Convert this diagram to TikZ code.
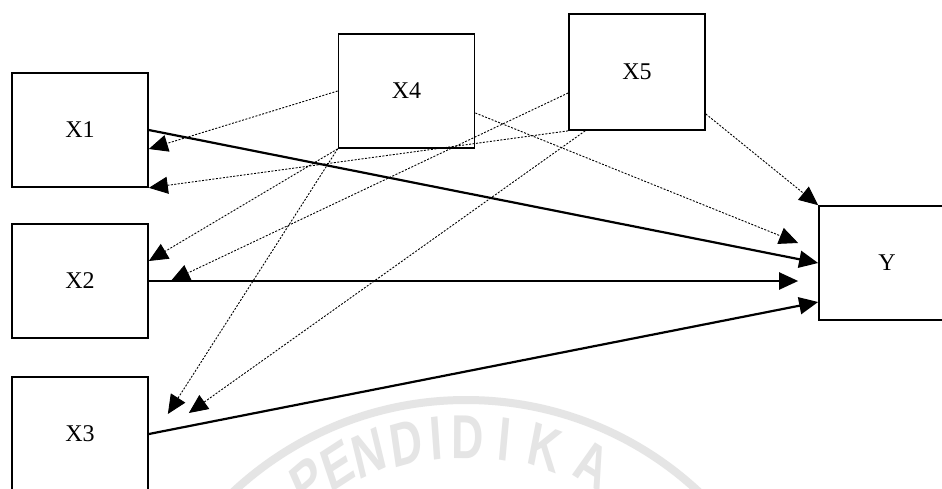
\documentclass[tikz,border=0pt]{standalone}
\usepackage{fontspec}
\setmainfont{Liberation Serif}
\newfontfamily\wmfont{Liberation Sans Bold}
\usetikzlibrary{arrows.meta,calc}
\begin{document}
\begin{tikzpicture}[x=1pt,y=-1pt,
  box/.style={draw=black, line width=1.7pt, minimum width=136pt, minimum height=114pt,
              inner sep=0pt, font=\fontsize{24}{24}\selectfont},
  mainarrow/.style={line width=2.2pt, -{Triangle[length=19pt,width=17pt]}},
  sidearrow/.style={line width=0.9pt, dash pattern=on 2pt off 1.5pt, -{Triangle[length=19pt,width=17pt]}},
  wmletter/.style={text=black!10, font=\wmfont\fontsize{62}{62}\selectfont, inner sep=0pt, xscale=0.72},
  wmring/.style={draw=black!10, line width=8pt}
]
\useasboundingbox (0,0) rectangle (942,488);
\clip (0,0) rectangle (942,488);
\fill[white] (0,0) rectangle (942,488);

% watermark
\coordinate (wc) at (466,741);
\draw[wmring] (wc) circle[radius=341pt];
\foreach \ch/\ang [count=\i] in {P/121.5, E/115.0, N/108.6, D/101.4, I/95.6, D/89.6, I/82.8, K/75.0, A/65.5}{
  \node[wmletter, rotate=\ang-90] (wm\i) at ($(wc)+({304*cos(\ang)},{-304*sin(\ang)})$) {\ch};
}

% boxes
\node[box] (X1) at (80,130) {X1};
\node[box] (X2) at (80,281) {X2};
\node[box] (X3) at (80,434) {X3};
\node[box] (X4) at (406.5,91) {X4};
\node[box, minimum height=116pt] (X5) at (637,72) {X5};
\node[box] (Y) at (887,263) {Y};

% main arrows
\draw[mainarrow] (X1.east) -- (Y.west);
\draw[mainarrow] (X2.east) -- ($(X2.east -| Y.west)+(-20,0)$);
\draw[mainarrow] (X3.east) -- ($(Y.west)+(0,39)$);

% dotted arrows
\draw[sidearrow] (X4.west) -- ($(X1.east)+(0,19)$);
\draw[sidearrow] (X5.south west) -- (X1.south east);
\draw[sidearrow] (X4.south west) -- ($(X2.east)+(0,-20)$);
\draw[sidearrow] ($(X5.west)+(0,21)$) -- ($(X2.east)+(22,0)$);
\draw[sidearrow] (X4.south west) -- ($(X3.east)+(19,-20)$);
\draw[sidearrow] ($(X5.south west)+(17,0)$) -- ($(X3.east)+(40,-21)$);
\draw[sidearrow] ($(X4.east)+(0,22)$) -- ($(Y.west)+(-20,-20)$);
\draw[sidearrow] ($(X5.east)+(0,42)$) -- (Y.north west);
\end{tikzpicture}
\end{document}
